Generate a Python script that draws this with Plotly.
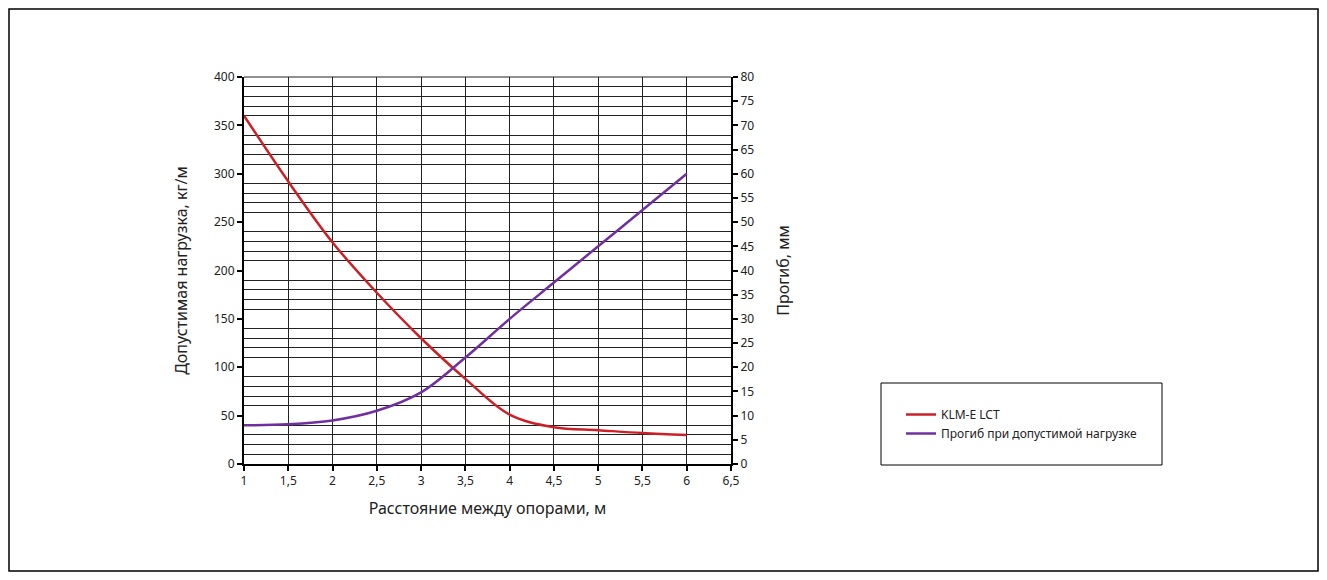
import plotly.graph_objects as go

# Data
distance = [1, 1.5, 2, 2.5, 3, 3.5, 4, 4.5, 5, 5.5, 6]
load_klm = [360, 292, 229, 177, 130, 88, 51, 38, 35, 32, 30]
deflection = [8, 8.2, 9, 11, 14.8, 22, 30, 37.5, 45, 52.5, 60]

x_ticks = [1, 1.5, 2, 2.5, 3, 3.5, 4, 4.5, 5, 5.5, 6, 6.5]
x_labels = ["1", "1,5", "2", "2,5", "3", "3,5", "4", "4,5", "5", "5,5", "6", "6,5"]

# page body has an 8px margin, so the figure origin sits at (8, 8)
OFF = 8
W, H = 1327 - 2 * OFF, 580 - 2 * OFF
L, R, T, B = 244 - OFF, 731 - OFF, 77 - OFF, 464 - OFF
FONT = "Noto Sans"


def px_x(px):
    return (px - OFF - L) / (R - L)


def px_y(py):
    return (B - (py - OFF)) / (B - T)


fig = go.Figure()
fig.add_trace(go.Scatter(
    x=distance, y=load_klm, name="KLM-E LCT", mode="lines",
    line=dict(color="#cc2027", width=2.5, shape="spline", smoothing=1),
))
fig.add_trace(go.Scatter(
    x=distance, y=deflection, name="Прогиб при допустимой нагрузке", mode="lines",
    line=dict(color="#7030a0", width=2.5, shape="spline", smoothing=1),
    yaxis="y2",
))

fig.update_layout(
    width=W, height=H,
    margin=dict(l=L, r=W - R, t=T, b=H - B),
    paper_bgcolor="white", plot_bgcolor="white",
    font=dict(family=FONT, size=12, color="#222"),
    xaxis=dict(
        range=[1, 6.5], tickvals=x_ticks, ticktext=x_labels,
        showgrid=True, gridcolor="#222", gridwidth=1,
        showline=True, linecolor="black", linewidth=2,
        ticks="outside", ticklen=5, tickcolor="black", tickwidth=2,
        zeroline=False,
        title=dict(text="Расстояние между опорами, м", font=dict(size=16), standoff=14),
    ),
    yaxis=dict(
        range=[0, 400], dtick=50,
        showgrid=False,
        minor=dict(dtick=10, showgrid=True, gridcolor="#222", gridwidth=1),
        showline=True, linecolor="black", linewidth=2,
        ticks="outside", ticklen=5, tickcolor="black", tickwidth=2,
        zeroline=False,
        title=dict(text="Допустимая нагрузка, кг/м", font=dict(size=16), standoff=22),
    ),
    yaxis2=dict(
        range=[0, 80], dtick=5, overlaying="y", side="right",
        showgrid=False,
        showline=True, linecolor="black", linewidth=2,
        ticks="outside", ticklen=5, tickcolor="black", tickwidth=2,
        zeroline=False,
        title=dict(text="Прогиб, мм", font=dict(size=16), standoff=25),
    ),
    showlegend=True,
    legend=dict(
        x=px_x(901), y=px_y(400), xanchor="left", yanchor="top",
        bgcolor="rgba(0,0,0,0)", borderwidth=0,
        font=dict(size=12, color="#222"), tracegroupgap=2,
    ),
    shapes=[
        # outer chart frame
        dict(type="rect", xref="paper", yref="paper",
             x0=px_x(OFF + 1), x1=px_x(1327 - OFF - 1),
             y0=px_y(580 - OFF - 1), y1=px_y(OFF + 1),
             line=dict(color="black", width=1.5), layer="below"),
        # legend frame
        dict(type="rect", xref="paper", yref="paper",
             x0=px_x(881), x1=px_x(1162), y0=px_y(465), y1=px_y(383),
             line=dict(color="black", width=1)),
        # top gridline of the plot
        dict(type="line", xref="paper", yref="paper",
             x0=0, x1=1, y0=1, y1=1, line=dict(color="#222", width=1)),
    ],
)

fig.write_html("out.html")
